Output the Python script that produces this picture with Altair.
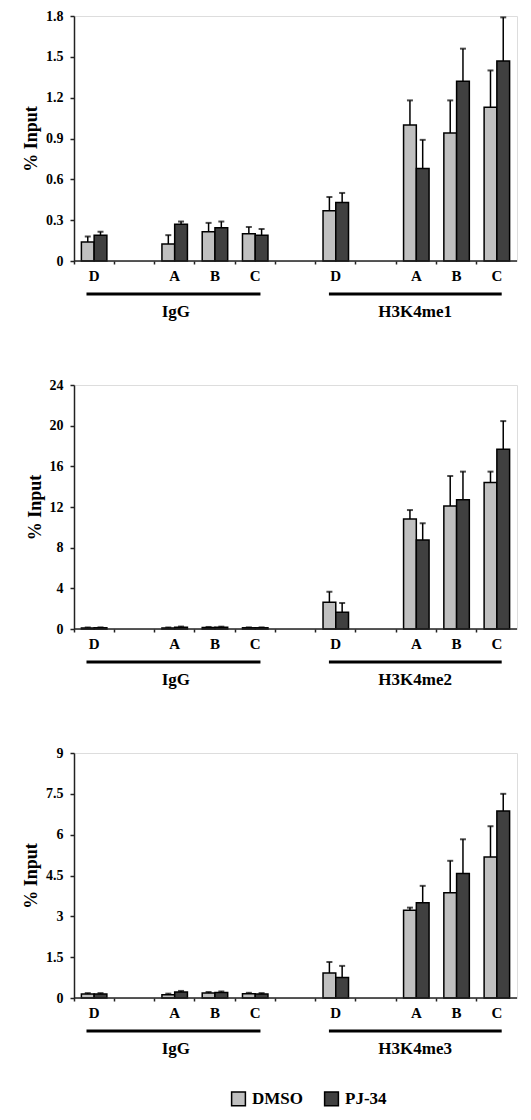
import altair as alt
import pandas as pd

# ---------------- data ----------------
tick_labels = ["D", "", "A", "B", "C", "", "D", "", "A", "B", "C"]
bar_positions = [0, 2, 3, 4, 6, 8, 9, 10]   # IgG D,A,B,C then antibody D,A,B,C
treatments = ["DMSO", "PJ-34"]
colors = ["#c0c0c0", "#404040"]

antibodies = ["H3K4me1", "H3K4me2", "H3K4me3"]

me1_dmso = [0.14, 0.125, 0.215, 0.20, 0.37, 1.00, 0.94, 1.13]
me1_dmso_top = [0.18, 0.19, 0.28, 0.25, 0.47, 1.18, 1.18, 1.40]
me1_pj = [0.19, 0.27, 0.245, 0.19, 0.43, 0.68, 1.32, 1.47]
me1_pj_top = [0.215, 0.29, 0.29, 0.235, 0.50, 0.89, 1.56, 1.79]

me2_dmso = [0.10, 0.10, 0.15, 0.12, 2.62, 10.82, 12.1, 14.4]
me2_dmso_top = [0.15, 0.15, 0.20, 0.16, 3.67, 11.7, 15.05, 15.48]
me2_pj = [0.12, 0.18, 0.18, 0.12, 1.64, 8.75, 12.72, 17.67]
me2_pj_top = [0.16, 0.24, 0.23, 0.16, 2.56, 10.4, 15.48, 20.45]

me3_dmso = [0.15, 0.12, 0.18, 0.16, 0.92, 3.22, 3.87, 5.18]
me3_dmso_top = [0.18, 0.16, 0.22, 0.19, 1.32, 3.32, 5.04, 6.31]
me3_pj = [0.15, 0.22, 0.20, 0.15, 0.75, 3.50, 4.57, 6.87]
me3_pj_top = [0.18, 0.26, 0.24, 0.18, 1.18, 4.12, 5.83, 7.5]

y_max = [1.8, 24, 9]
y_ticks = [
    [0, 0.3, 0.6, 0.9, 1.2, 1.5, 1.8],
    [0, 4, 8, 12, 16, 20, 24],
    [0, 1.5, 3, 4.5, 6, 7.5, 9],
]

# group underline / label positions, in band units
group_start = [0.31, 6.33]
group_end = [4.63, 10.62]
group_center = [2.53, 8.47]

FONT = "Liberation Serif"
W = 443
H = [245, 244, 245]

label_expr = "[" + ",".join("'%s'" % t for t in tick_labels) + "][datum.value]"


def panel(idx, dmso, dmso_top, pj, pj_top):
    name = antibodies[idx]
    h = H[idx]
    rows = []
    for i, p in enumerate(bar_positions):
        rows.append(dict(pos=p, treatment="DMSO", value=dmso[i], top=dmso_top[i]))
        rows.append(dict(pos=p, treatment="PJ-34", value=pj[i], top=pj_top[i]))
    df = pd.DataFrame(rows)
    base = alt.Chart(df)

    xscale = alt.Scale(domain=list(range(11)), paddingInner=0, paddingOuter=0)
    xaxis = alt.Axis(title=None, labelExpr=label_expr, bandPosition=0, tickSize=3,
                     labelPadding=4, domain=False, labelAngle=0, labelFontSize=15,
                     labelFontWeight="bold", labelFont=FONT, labelColor="black",
                     tickColor="#222", tickWidth=1.5)
    xenc = alt.X("pos:O", scale=xscale, axis=xaxis)
    xoff = alt.XOffset("treatment:N", scale=alt.Scale(domain=treatments, paddingOuter=0.58, paddingInner=0))
    yscale = alt.Scale(domain=[0, y_max[idx]], nice=False)
    yaxis = alt.Axis(values=y_ticks[idx], format=".2~f", title="% Input", grid=False,
                     tickSize=4, labelPadding=7, labelFontSize=14, labelFontWeight="bold",
                     labelFont=FONT, labelColor="black", titleFont=FONT, titleFontSize=18,
                     titleFontWeight="bold", titleColor="black", titlePadding=5,
                     domainColor="#222", domainWidth=1.5, tickColor="#222", tickWidth=1.5)
    yenc = alt.Y("value:Q", scale=yscale, axis=yaxis, title="% Input")

    bars = base.mark_bar(stroke="black", strokeWidth=1.5).encode(
        x=xenc, xOffset=xoff, y=yenc,
        fill=alt.Fill("treatment:N", scale=alt.Scale(domain=treatments, range=colors),
                      legend=alt.Legend(orient="none", legendX=156, legendY=1074,
                                        direction="horizontal", columns=2, title=None,
                                        symbolType="square", symbolSize=190,
                                        symbolStrokeColor="black", symbolStrokeWidth=1.5,
                                        symbolOpacity=1, labelFontSize=17,
                                        labelFontWeight="bold", labelFont=FONT,
                                        labelColor="black", columnPadding=18,
                                        labelOffset=5, padding=0)),
    )
    err = base.mark_rule(color="black", strokeWidth=1.5).encode(
        x=xenc, xOffset=xoff, y=alt.Y("value:Q", title="% Input"), y2="top:Q")
    cap = base.mark_tick(color="black", thickness=2, size=6).encode(
        x=xenc, xOffset=xoff, y=alt.Y("top:Q", title="% Input"))
    baseline = alt.Chart(pd.DataFrame({"v": [0]})).mark_rule(color="#222", strokeWidth=1.5).encode(
        y=alt.Y("v:Q", title="% Input"))

    ann = pd.DataFrame({"name": ["IgG", name], "start": group_start,
                        "end": group_end, "center": group_center})
    gx = alt.Scale(domain=[0, 11], nice=False, zero=False)
    under = alt.Chart(ann).mark_rule(color="black", strokeWidth=3).encode(
        x=alt.X("start:Q", scale=gx, axis=None), x2="end:Q", y=alt.value(h + 33))
    glab = alt.Chart(ann).mark_text(font=FONT, fontSize=17, fontWeight="bold",
                                    baseline="middle", color="black").encode(
        x=alt.X("center:Q", scale=gx, axis=None), y=alt.value(h + 51), text="name:N")

    inner = alt.layer(bars, err, cap, baseline)
    return alt.layer(inner, under, glab).resolve_scale(x="independent").properties(width=W, height=h)


p1 = panel(0, me1_dmso, me1_dmso_top, me1_pj, me1_pj_top)
p2 = panel(1, me2_dmso, me2_dmso_top, me2_pj, me2_pj_top)
p3 = panel(2, me3_dmso, me3_dmso_top, me3_pj, me3_pj_top)

chart = alt.vconcat(p1, p2, p3, spacing=124, bounds="flush").properties(
    padding={"left": 14, "top": 0, "right": 0, "bottom": 0},
    background="white",
).configure_view(stroke=None).configure(font=FONT)

chart.save("out.html", embed_options={"renderer": "svg", "actions": False})
